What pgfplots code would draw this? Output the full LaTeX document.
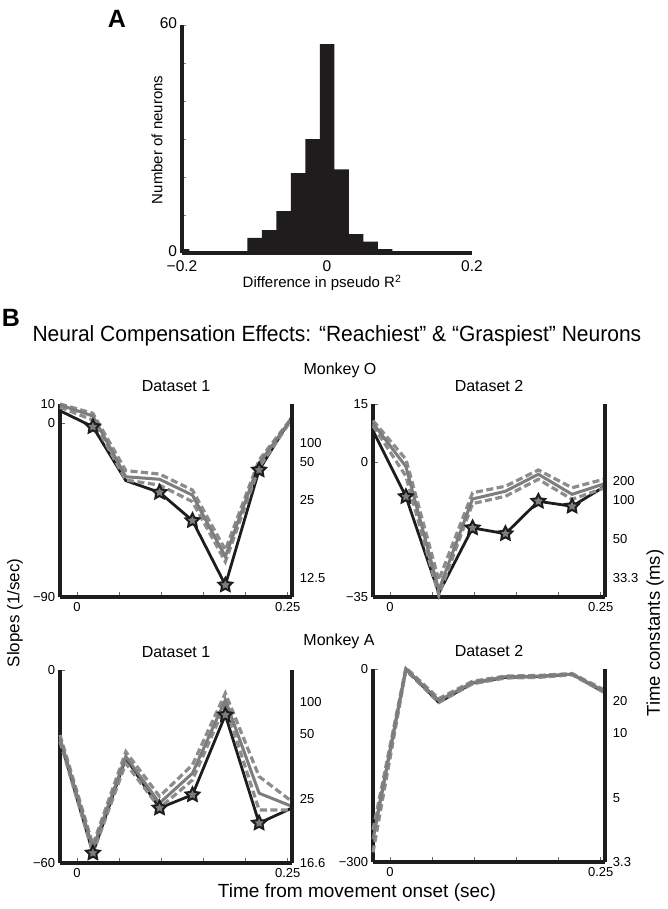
\documentclass[border=0pt]{standalone}
\usepackage{pgfplots}
\pgfplotsset{compat=1.18}
\usepackage{fontspec}
\setmainfont{Liberation Sans}
\newfontfamily\condfont{Liberation Sans}[FakeStretch=0.955]

\definecolor{ink}{RGB}{30,28,29}
\definecolor{lgray}{RGB}{125,125,125}
\definecolor{dgray}{RGB}{140,140,140}

\pgfdeclareplotmark{fstar}{%
  \pgfpathmoveto{\pgfpointpolar{90}{\pgfplotmarksize}}%
  \pgfpathlineto{\pgfpointpolar{126}{0.5\pgfplotmarksize}}%
  \pgfpathlineto{\pgfpointpolar{162}{\pgfplotmarksize}}%
  \pgfpathlineto{\pgfpointpolar{198}{0.5\pgfplotmarksize}}%
  \pgfpathlineto{\pgfpointpolar{234}{\pgfplotmarksize}}%
  \pgfpathlineto{\pgfpointpolar{270}{0.5\pgfplotmarksize}}%
  \pgfpathlineto{\pgfpointpolar{306}{\pgfplotmarksize}}%
  \pgfpathlineto{\pgfpointpolar{342}{0.5\pgfplotmarksize}}%
  \pgfpathlineto{\pgfpointpolar{18}{\pgfplotmarksize}}%
  \pgfpathlineto{\pgfpointpolar{54}{0.5\pgfplotmarksize}}%
  \pgfpathclose
  \pgfusepathqfillstroke}

\pgfplotsset{
  /pgf/number format/assume math mode=true,
  every axis/.append style={line width=3.2pt},
  thickspine/.style={
    axis line style={line width=3.2pt, ink},
    every outer x axis line/.append style={line width=3.2pt, ink},
    every outer y axis line/.append style={line width=3.2pt, ink}},
  bstyle/.style={scale only axis, width=232pt, height=193pt,
    xmin=-0.02, xmax=0.255,
    axis x line*=bottom, axis y line*=left,
    thickspine,
    xtick={0,0.05,0.1,0.15,0.2,0.25}, xticklabels={0,,,,,0.25},
    tick align=inside, major tick length=5pt,
    tick style={line width=0.7pt, black!60},
    tick label style={font=\fontsize{13}{15}\selectfont},
    clip=false,
    title style={font=\fontsize{16}{18}\selectfont, at={(rel axis cs:0.5,1)}, anchor=center, yshift=12pt}},
  rstyle/.style={scale only axis, width=232pt, height=193pt,
    xmin=-0.02, xmax=0.255,
    axis x line=none, axis y line*=right,
    thickspine,
    major tick length=0pt,
    tick label style={font=\fontsize{13}{15}\selectfont},
    yticklabel style={xshift=3pt}},
  blk/.style={ink, line width=2.8pt},
  gsol/.style={lgray, line width=3pt},
  gdash/.style={dgray, line width=3.2pt, dash pattern=on 7pt off 3.5pt},
  stars/.style={ink, only marks, mark=fstar, mark size=7.2pt, mark options={fill=lgray, draw=ink, line width=2pt, solid}},
}

\begin{document}
\begin{tikzpicture}
\useasboundingbox (0,0) rectangle (667pt,-909pt);

% ---------------- Panel A ----------------
\node[font=\fontsize{25}{28}\selectfont\bfseries] at (117pt,-19pt) {A};
\begin{axis}[scale only axis, width=290pt, height=228pt,
  at={(182pt,-253pt)}, anchor=south west,
  xmin=-0.2, xmax=0.2, ymin=0, ymax=60,
  axis x line*=bottom, axis y line*=left,
  thickspine,
  xtick={-0.2,0,0.2}, xticklabels={−0.2,0,0.2},
  ytick={0,10,20,30,40,50,60}, yticklabels={0,,,,,,60},
  tick align=inside, major tick length=4pt,
  tick style={line width=0.8pt},
  xtick style={draw=none},
  tick label style={font=\fontsize{15.5}{17}\selectfont},
  xticklabel style={yshift=-3pt},
  yticklabel style={yshift=2pt},
  xlabel={Difference in pseudo R\textsuperscript{2}},
  ylabel={Number of neurons},
  label style={font=\fontsize{15}{17}\selectfont},
  xlabel style={at={(rel axis cs:0.483,-0.132)}, anchor=center},
  ylabel style={at={(rel axis cs:-0.086,0.496)}, anchor=center}]
\addplot[ybar, bar width=0.02, fill=ink, draw=none] coordinates {
  (-0.20,1) (-0.10,4) (-0.08,6) (-0.06,11) (-0.04,21) (-0.02,30)
  (0.00,55) (0.02,22) (0.04,5) (0.06,3) (0.08,1)};
\end{axis}

% ---------------- Panel B texts ----------------
\node[font=\fontsize{25}{28}\selectfont\bfseries] at (11pt,-318pt) {B};
\node[font=\condfont\fontsize{22}{26}\selectfont, anchor=west] at (29pt,-336pt)
  {Neural Compensation Effects: “Reachiest” \& “Graspiest” Neurons};
\node[font=\fontsize{16}{18}\selectfont] at (340pt,-370pt) {Monkey O};
\node[font=\fontsize{16}{18}\selectfont] at (339pt,-641pt) {Monkey A};
\node[font=\fontsize{17}{19}\selectfont, rotate=90] at (15pt,-613pt) {Slopes (1/sec)};
\node[font=\fontsize{18.5}{20}\selectfont, rotate=90] at (655pt,-633pt) {Time constants (ms)};
\node[font=\fontsize{19}{21}\selectfont] at (357pt,-893pt) {Time from movement onset (sec)};

% ---------------- Monkey O, Dataset 1 ----------------
\begin{axis}[bstyle, at={(60pt,-597pt)}, anchor=south west,
  ymin=-90, ymax=10, ytick={-90,0,10}, yticklabels={−90,0,10}, title={Dataset 1}]
\addplot[blk] coordinates {(-0.02,6.5) (0.019,-1.8) (0.058,-29.7) (0.098,-35.8) (0.137,-50.4) (0.176,-83.8) (0.216,-24.2) (0.255,3.4)};
\addplot[gdash] coordinates {(-0.02,10) (0.019,5.2) (0.058,-24.5) (0.098,-26.3) (0.137,-34.6) (0.176,-65.6) (0.216,-19) (0.255,3.0)};
\addplot[gdash] coordinates {(-0.02,8.3) (0.019,1.7) (0.058,-29.4) (0.098,-32) (0.137,-40.6) (0.176,-71.7) (0.216,-22.8) (0.255,2.2)};
\addplot[gsol] coordinates {(-0.02,9.5) (0.019,3.8) (0.058,-27.7) (0.098,-29.0) (0.137,-37.2) (0.176,-69.1) (0.216,-20.7) (0.255,2.6)};
\addplot[stars] coordinates {(0.019,-1.8) (0.098,-35.8) (0.137,-50.4) (0.176,-83.8) (0.216,-24.2)};
\end{axis}
\begin{axis}[rstyle, at={(60pt,-597pt)}, anchor=south west,
  ymin=-90, ymax=10, ytick={-80,-40,-20,-10}, yticklabels={12.5,25,50,100}]
\end{axis}

% ---------------- Monkey O, Dataset 2 ----------------
\begin{axis}[bstyle, at={(373pt,-597pt)}, anchor=south west,
  ymin=-35, ymax=15, ytick={-35,0,15}, yticklabels={−35,0,15}, title={Dataset 2}]
\addplot[blk] coordinates {(-0.02,8.1) (0.019,-9.0) (0.058,-34) (0.098,-17.1) (0.137,-18.6) (0.176,-10.2) (0.216,-11.5) (0.255,-6.3)};
\addplot[gdash] coordinates {(-0.02,10.7) (0.019,0.7) (0.058,-30.6) (0.098,-8) (0.137,-6.3) (0.176,-2.1) (0.216,-6.7) (0.255,-4.4)};
\addplot[gdash] coordinates {(-0.02,9.4) (0.019,-3.7) (0.058,-34.5) (0.098,-10.8) (0.137,-8.9) (0.176,-4.5) (0.216,-9.7) (0.255,-6.7)};
\addplot[gsol] coordinates {(-0.02,10.0) (0.019,-1.2) (0.058,-33.2) (0.098,-9.6) (0.137,-7.6) (0.176,-3.2) (0.216,-8.4) (0.255,-5.6)};
\addplot[stars] coordinates {(0.019,-9.0) (0.098,-17.1) (0.137,-18.6) (0.176,-10.2) (0.216,-11.5)};
\end{axis}
\begin{axis}[rstyle, at={(373pt,-597pt)}, anchor=south west,
  ymin=-35, ymax=15, ytick={-30,-20,-10,-5}, yticklabels={33.3,50,100,200}]
\end{axis}

% ---------------- Monkey A, Dataset 1 ----------------
\begin{axis}[bstyle, at={(60pt,-863pt)}, anchor=south west,
  ymin=-60, ymax=0, ytick={-60,0}, yticklabels={−60,0}, title={Dataset 1}]
\addplot[blk] coordinates {(-0.02,-21.7) (0.019,-56.9) (0.058,-27.4) (0.098,-42.9) (0.137,-38.8) (0.176,-14.0) (0.216,-47.6) (0.255,-42.9)};
\addplot[gdash] coordinates {(-0.02,-20.2) (0.019,-54.3) (0.058,-25.4) (0.098,-39.3) (0.137,-29.5) (0.176,-7.2) (0.216,-33.1) (0.255,-40.9)};
\addplot[gdash] coordinates {(-0.02,-22.2) (0.019,-56.9) (0.058,-29) (0.098,-42.9) (0.137,-34.2) (0.176,-10.9) (0.216,-43.5) (0.255,-43.5)};
\addplot[gsol] coordinates {(-0.02,-21.2) (0.019,-55.4) (0.058,-26.9) (0.098,-41.4) (0.137,-32.1) (0.176,-9.3) (0.216,-38.3) (0.255,-42.4)};
\addplot[stars] coordinates {(0.019,-56.9) (0.098,-42.9) (0.137,-38.8) (0.176,-14.0) (0.216,-47.6)};
\end{axis}
\begin{axis}[rstyle, at={(60pt,-863pt)}, anchor=south west,
  ymin=-60, ymax=0, ytick={-60,-40,-20,-10}, yticklabels={16.6,25,50,100}]
\end{axis}

% ---------------- Monkey A, Dataset 2 ----------------
\begin{axis}[bstyle, at={(373pt,-862pt)}, anchor=south west,
  ymin=-300, ymax=0, ytick={-300,0}, yticklabels={−300,0}, title={Dataset 2}]
\addplot[blk] coordinates {(-0.02,-262) (0.019,0) (0.058,-52) (0.098,-22) (0.137,-13) (0.176,-12) (0.216,-8) (0.255,-37)};
\addplot[gdash] coordinates {(-0.02,-250) (0.019,2) (0.058,-46) (0.098,-19) (0.137,-11) (0.176,-10) (0.216,-7) (0.255,-33)};
\addplot[gdash] coordinates {(-0.02,-285) (0.019,-2) (0.058,-52) (0.098,-23) (0.137,-14) (0.176,-13) (0.216,-9) (0.255,-37)};
\addplot[gsol] coordinates {(-0.02,-265) (0.019,0) (0.058,-49) (0.098,-21) (0.137,-12) (0.176,-11) (0.216,-8) (0.255,-35)};
\end{axis}
\begin{axis}[rstyle, at={(373pt,-862pt)}, anchor=south west,
  ymin=-300, ymax=0, ytick={-300,-200,-100,-50}, yticklabels={3.3,5,10,20}]
\end{axis}

\end{tikzpicture}
\end{document}
